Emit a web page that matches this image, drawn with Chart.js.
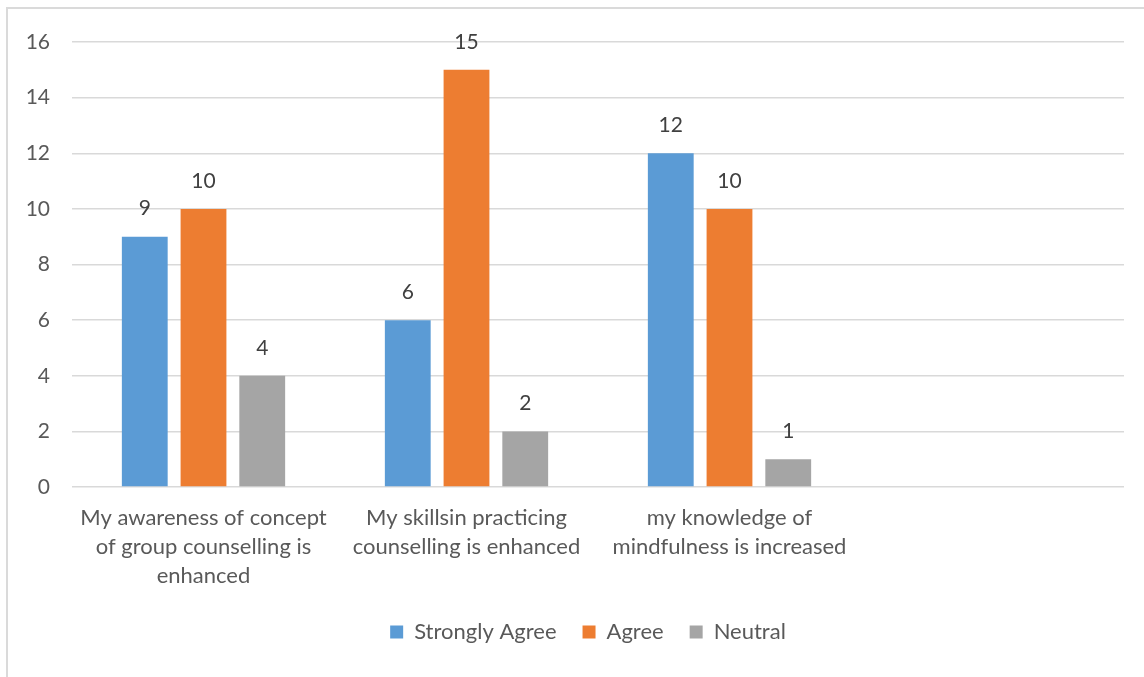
<!DOCTYPE html>
<html>
<head>
<meta charset="utf-8">
<script src="https://cdn.jsdelivr.net/npm/chart.js@4.4.1/dist/chart.umd.min.js"></script>
<style>
  html, body { margin: 0; padding: 0; background: #fff; }
  .frame {
    position: absolute; left: 6px; top: 7px; width: 1200px; height: 720px;
    border-left: 2px solid #dadada; border-top: 2px solid #dadada;
  }
  .wrap { position: absolute; left: 0; top: 0; width: 1144px; height: 677px; }
</style>
</head>
<body>
<div class="frame"></div>
<div class="wrap"><canvas id="chart"></canvas></div>
<script>
// categories (last slot is left empty on purpose)
const categories = [
  ["My awareness of concept", "of group counselling is", "enhanced"],
  ["My skillsin practicing", "counselling is enhanced"],
  ["my knowledge of", "mindfulness is increased"],
  ""
];
const seriesNames = ["Strongly Agree", "Agree", "Neutral"];
const stronglyAgree = [9, 6, 12, null];
const agree = [10, 15, 10, null];
const neutral = [4, 2, 1, null];
const yTicks = [0, 2, 4, 6, 8, 10, 12, 14, 16];

const colors = ["#5B9BD5", "#ED7D31", "#A5A5A5"];
const FONT = "Lato, 'Noto Sans', sans-serif";

// numbers above each bar
const valueLabels = {
  id: "valueLabels",
  afterDatasetsDraw(chart) {
    const ctx = chart.ctx;
    ctx.save();
    ctx.font = "21px " + FONT;
    ctx.fillStyle = "#404040";
    ctx.textAlign = "center";
    ctx.textBaseline = "middle";
    chart.data.datasets.forEach((ds, i) => {
      chart.getDatasetMeta(i).data.forEach((bar, j) => {
        const v = ds.data[j];
        if (v === null || v === undefined) return;
        ctx.fillText(String(v), bar.x, bar.y - 28);
      });
    });
    ctx.restore();
  }
};

// legend sits a bit right of the canvas centre
const legendShift = {
  id: "legendShift",
  afterLayout(chart) {
    if (!chart.legend) return;
    chart.legend.left += 26;
    chart.legend.right += 26;
  }
};

const datasets = [stronglyAgree, agree, neutral].map((values, i) => ({
  label: seriesNames[i],
  data: values,
  backgroundColor: colors[i],
  borderWidth: 0,
  categoryPercentage: 0.67,
  barPercentage: 0.78
}));

new Chart(document.getElementById("chart"), {
  type: "bar",
  data: { labels: categories, datasets },
  plugins: [valueLabels, legendShift],
  options: {
    responsive: true,
    maintainAspectRatio: false,
    animation: false,
    layout: { padding: { top: 42, left: 0, right: 20, bottom: 24 } },
    plugins: {
      tooltip: { enabled: false },
      legend: {
        position: "bottom",
        labels: {
          color: "#595959",
          font: { family: FONT, size: 22 },
          boxWidth: 13,
          boxHeight: 13,
          padding: 26
        }
      }
    },
    scales: {
      x: {
        grid: { display: false },
        border: { display: false },
        ticks: {
          color: "#595959",
          font: { family: FONT, size: 22, lineHeight: 1.32 },
          padding: 8,
          maxRotation: 0,
          autoSkip: false
        },
        afterFit: (scale) => { scale.height = 108; }
      },
      y: {
        min: 0,
        max: 16,
        afterBuildTicks: (scale) => { scale.ticks = yTicks.map(v => ({ value: v })); },
        grid: { color: "#d9d9d9", lineWidth: 1.5, drawTicks: false },
        border: { display: false },
        ticks: {
          color: "#595959",
          font: { family: FONT, size: 21 },
          padding: 22
        },
        afterFit: (scale) => { scale.width = 72; }
      }
    }
  }
});
</script>
</body>
</html>
